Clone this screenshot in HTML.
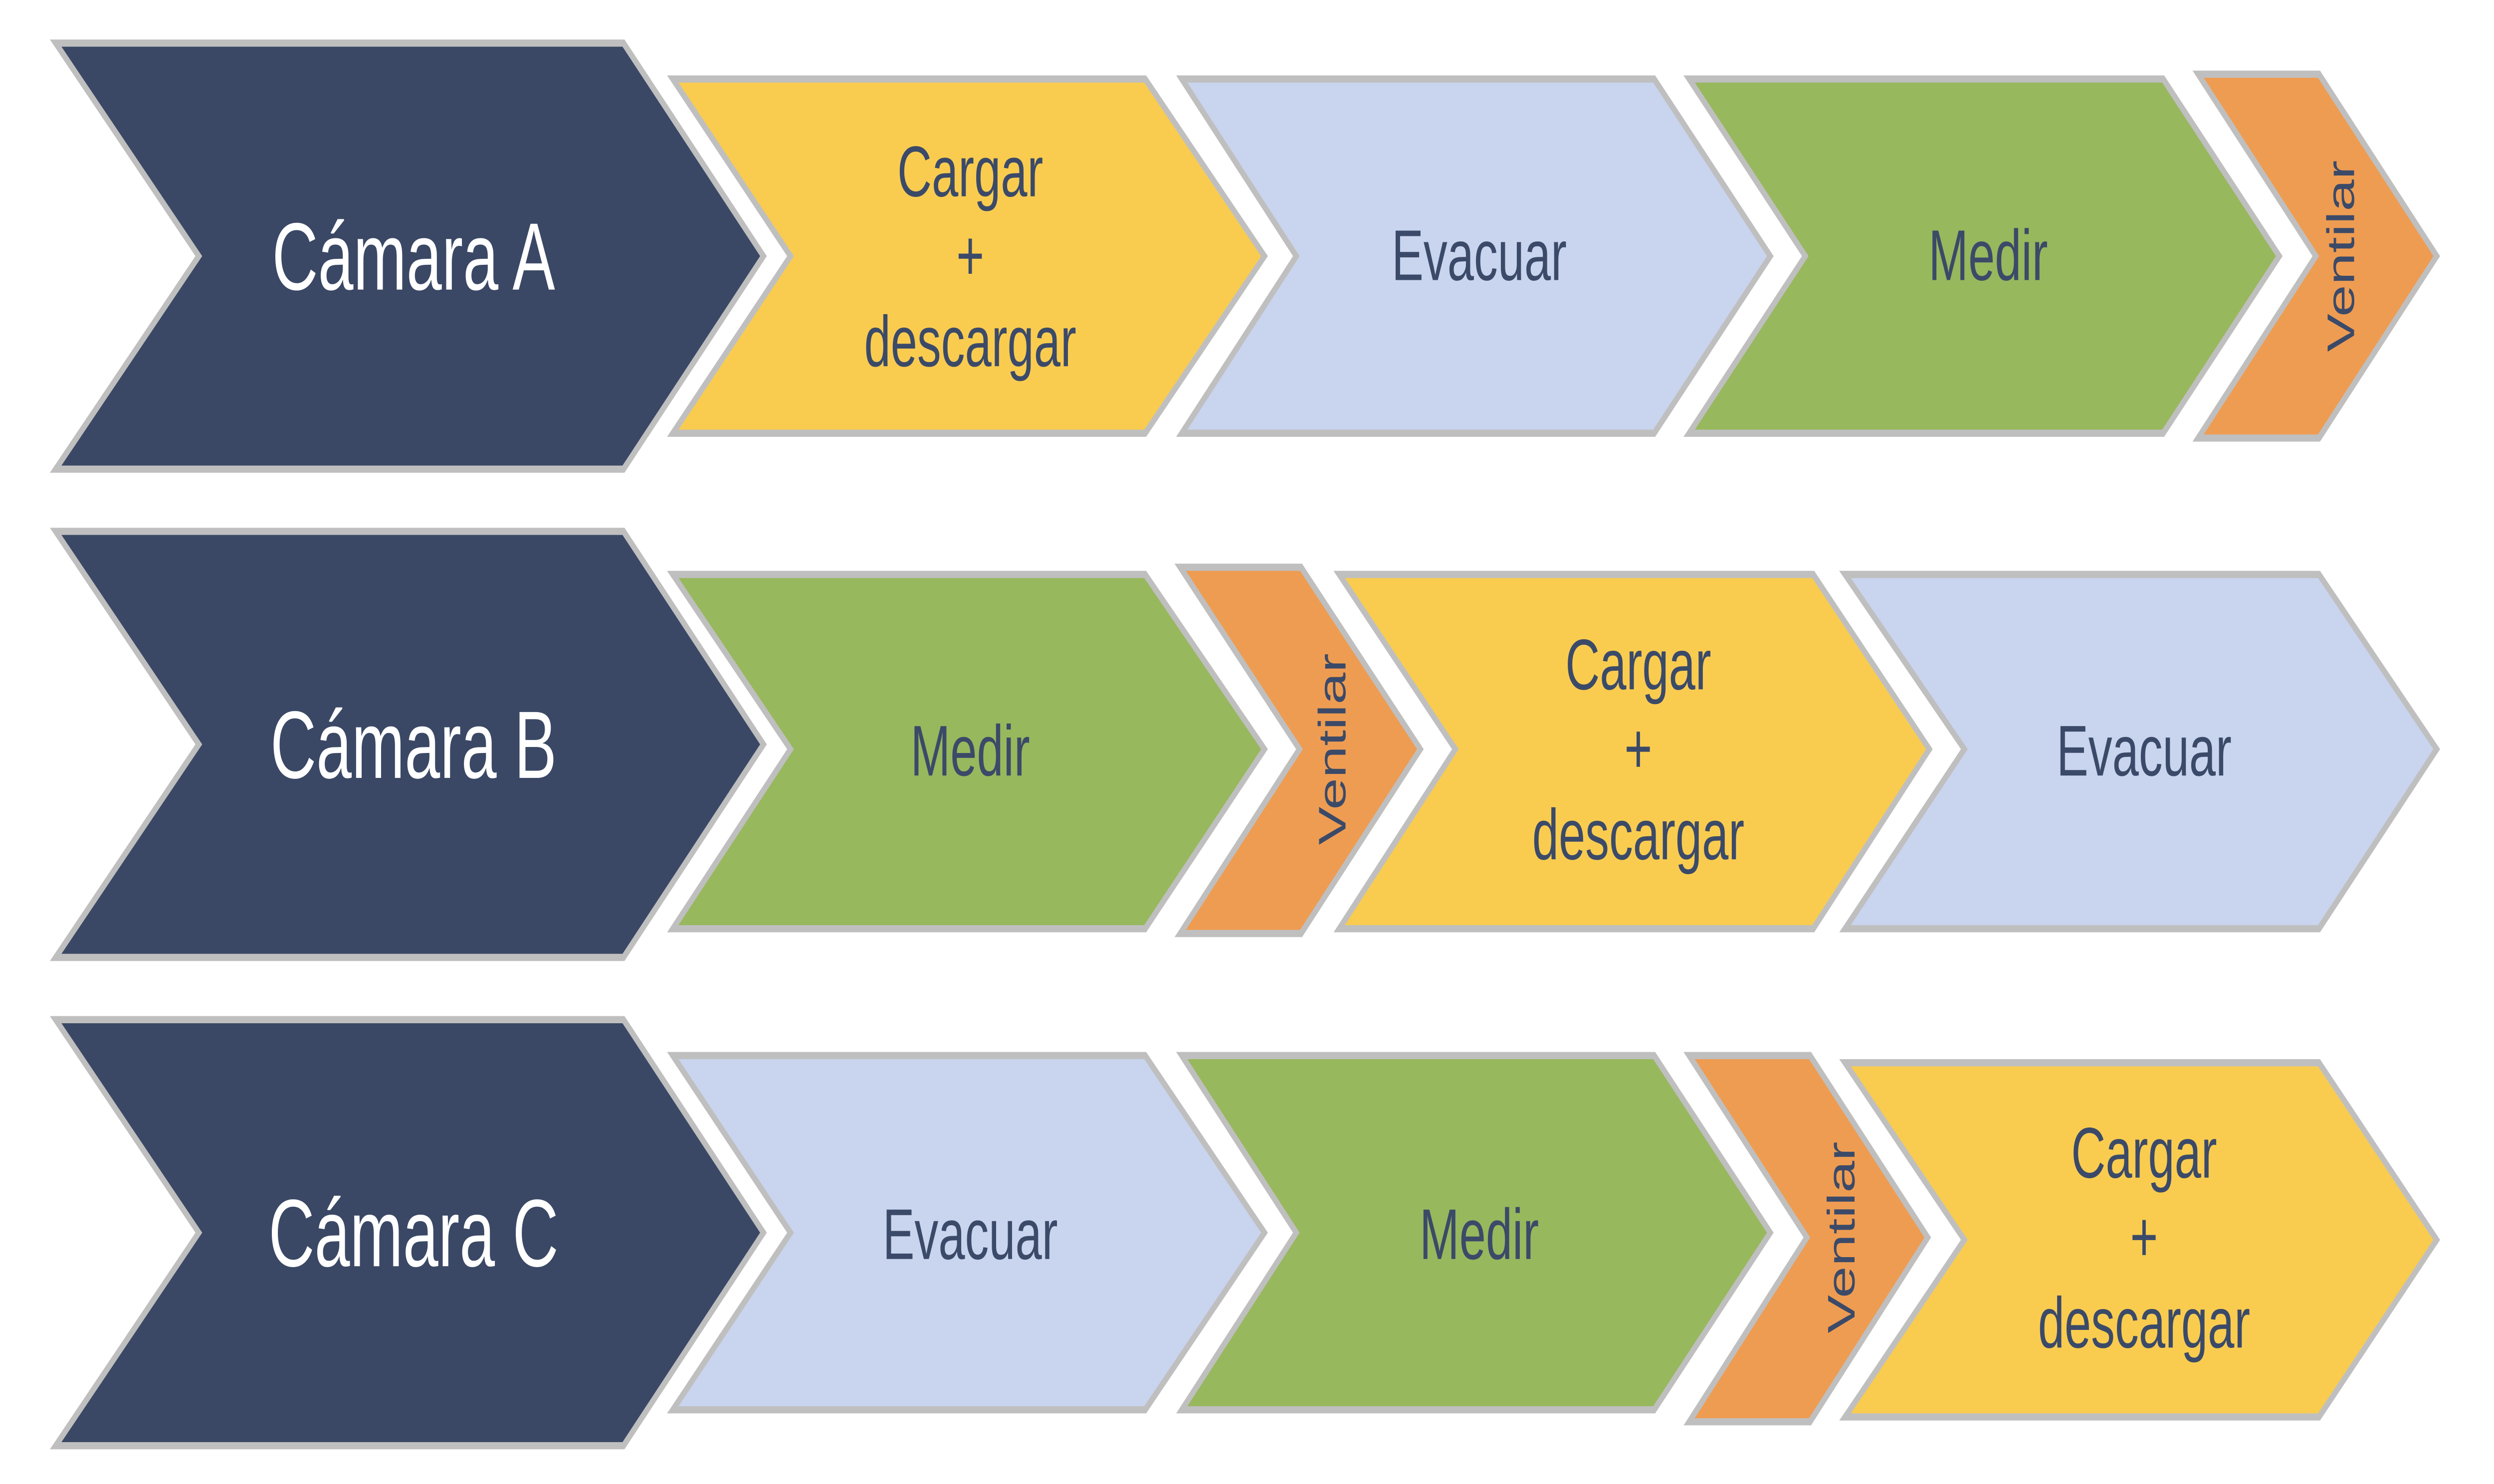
<!DOCTYPE html>
<html><head><meta charset="utf-8"><style>
html,body{margin:0;padding:0;background:#fff;width:100vw;height:100vh;overflow:hidden}
svg{display:block;width:100vw;height:100vh}
text{font-family:"Liberation Sans",sans-serif}
</style></head><body>
<svg viewBox="0 0 1568 620" preserveAspectRatio="none" xmlns="http://www.w3.org/2000/svg">
<g stroke="#bfbfbf" stroke-width="3" stroke-linejoin="miter">
<polygon points="35,18 392,18 480,107 392,196 35,196 125,107" fill="#3a4865"/>
<polygon points="423,33 720,33 795,107 720,181 423,181 497,107" fill="#f9cc50"/>
<polygon points="743,33 1040,33 1113,107 1040,181 743,181 815,107" fill="#c9d4ee"/>
<polygon points="1062,33 1360,33 1433,107 1360,181 1062,181 1135,107" fill="#97b85d"/>
<polygon points="1382,31 1458,31 1532,107 1458,183 1382,183 1456,107" fill="#ee9c52"/>
<polygon points="35,222 392,222 480,311 392,400 35,400 125,311" fill="#3a4865"/>
<polygon points="423,240 720,240 795,313 720,388 423,388 497,313" fill="#97b85d"/>
<polygon points="742,237 818,237 893,313 818,390 742,390 817,313" fill="#ee9c52"/>
<polygon points="842,240 1140,240 1213,313 1140,388 842,388 915,313" fill="#f9cc50"/>
<polygon points="1160,240 1458,240 1532,313 1458,388 1160,388 1235,313" fill="#c9d4ee"/>
<polygon points="35,426 392,426 480,515 392,604 35,604 125,515" fill="#3a4865"/>
<polygon points="423,441 720,441 795,515 720,589 423,589 497,515" fill="#c9d4ee"/>
<polygon points="743,441 1040,441 1113,515 1040,589 743,589 815,515" fill="#97b85d"/>
<polygon points="1062,441 1138,441 1212,517 1138,594 1062,594 1136,517" fill="#ee9c52"/>
<polygon points="1160,444 1458,444 1532,518 1458,592 1160,592 1235,518" fill="#f9cc50"/>
</g>
<g fill="#fff" font-size="40" text-anchor="middle">
<text x="260" y="121">Cámara A</text>
<text x="260" y="325">Cámara B</text>
<text x="260" y="529">Cámara C</text>
</g>
<g fill="#3b4a68" font-size="30" text-anchor="middle">
<text x="610" y="82">Cargar</text><text x="610" y="117">+</text><text x="610" y="153">descargar</text>
<text x="930" y="117">Evacuar</text>
<text x="1250" y="117">Medir</text>
<text x="610" y="324">Medir</text>
<text x="1030" y="288">Cargar</text><text x="1030" y="323">+</text><text x="1030" y="359">descargar</text>
<text x="1348" y="324">Evacuar</text>
<text x="610" y="526">Evacuar</text>
<text x="930" y="526">Medir</text>
<text x="1348" y="492">Cargar</text><text x="1348" y="527">+</text><text x="1348" y="563">descargar</text>
</g>
<g fill="#3b4a68" font-size="24" text-anchor="middle">
<text transform="translate(1480,107) rotate(-90)">Ventilar</text>
<text transform="translate(846,313) rotate(-90)">Ventilar</text>
<text transform="translate(1166,517) rotate(-90)">Ventilar</text>
</g>
</svg>
</body></html>
